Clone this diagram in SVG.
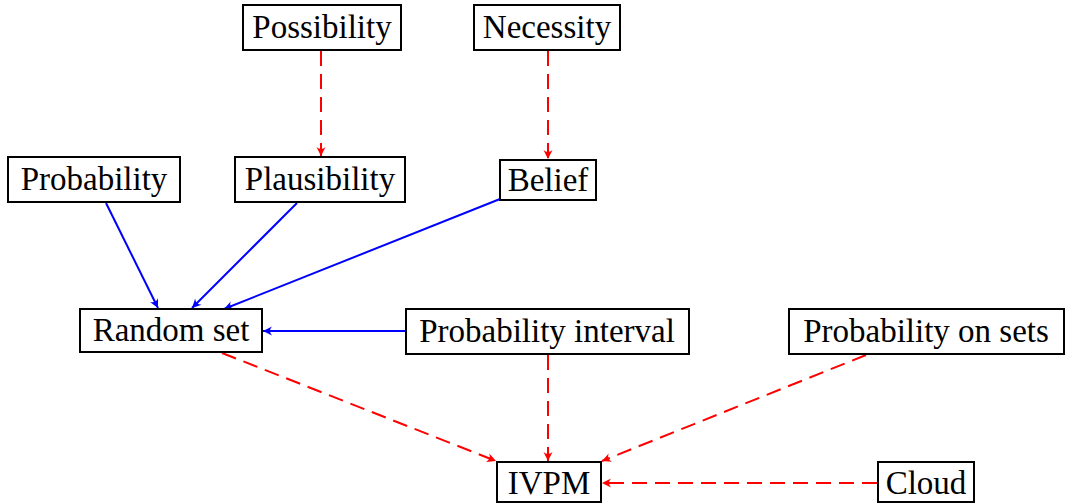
<svg xmlns="http://www.w3.org/2000/svg" width="1070" height="504" viewBox="0 0 1070 504">
<style>
.box{fill:#fff;stroke:#000;stroke-width:2}
.lbl{font-family:"Liberation Serif","Times New Roman",serif;font-size:33px;fill:#000;text-anchor:middle}
.blue{stroke:#0000ff;stroke-width:2;fill:none;marker-end:url(#ab)}
.red{stroke:#ff0000;stroke-width:2;fill:none;stroke-dasharray:15 8;marker-end:url(#ar)}
</style>
<defs>
<marker id="ab" viewBox="-10 -6 12 12" markerWidth="12" markerHeight="12" refX="0" refY="0" orient="auto" markerUnits="userSpaceOnUse">
<path d="M0,0 L-9,-4.5 Q-5,0 -9,4.5 Z" fill="#0000ff"/>
</marker>
<marker id="ar" viewBox="-10 -6 12 12" markerWidth="12" markerHeight="12" refX="0" refY="0" orient="auto" markerUnits="userSpaceOnUse">
<path d="M0,0 L-9,-4.5 Q-5,0 -9,4.5 Z" fill="#ff0000"/>
</marker>
</defs>
<rect width="1070" height="504" fill="#fff"/>
<g id="connectors">
<line class="red" x1="321" y1="51" x2="321" y2="156"/>
<line class="red" x1="548" y1="51" x2="548" y2="159"/>
<line class="blue" x1="106" y1="203" x2="158" y2="308"/>
<line class="blue" x1="297" y1="203" x2="192" y2="308"/>
<line class="blue" x1="500" y1="199" x2="224" y2="309"/>
<line class="blue" x1="405" y1="331" x2="263" y2="331"/>
<line class="red" x1="222" y1="353" x2="496" y2="461"/>
<line class="red" x1="548" y1="355" x2="548" y2="461"/>
<line class="red" x1="866" y1="355" x2="602" y2="461"/>
<line class="red" x1="877" y1="483" x2="602" y2="483"/>
</g>
<g id="possibility"><rect class="box" x="243" y="5" width="158" height="45"/><text class="lbl" x="322" y="38">Possibility</text></g>
<g id="necessity"><rect class="box" x="474" y="5" width="146" height="45"/><text class="lbl" x="547" y="38">Necessity</text></g>
<g id="probability"><rect class="box" x="8" y="157" width="172" height="45"/><text class="lbl" x="94" y="190">Probability</text></g>
<g id="plausibility"><rect class="box" x="235" y="157" width="170" height="45"/><text class="lbl" x="320" y="190">Plausibility</text></g>
<g id="belief"><rect class="box" x="500" y="160" width="96" height="40"/><text class="lbl" x="548" y="191">Belief</text></g>
<g id="randomset"><rect class="box" x="80" y="309" width="182" height="43"/><text class="lbl" x="171" y="341">Random set</text></g>
<g id="probinterval"><rect class="box" x="406" y="309" width="283" height="45"/><text class="lbl" x="547" y="342">Probability interval</text></g>
<g id="probsets"><rect class="box" x="789" y="309" width="275" height="45"/><text class="lbl" x="926" y="342">Probability on sets</text></g>
<g id="ivpm"><rect class="box" x="497" y="462" width="104" height="40"/><text class="lbl" x="549" y="494">IVPM</text></g>
<g id="cloud"><rect class="box" x="878" y="462" width="96" height="40"/><text class="lbl" x="926" y="494">Cloud</text></g>
</svg>
